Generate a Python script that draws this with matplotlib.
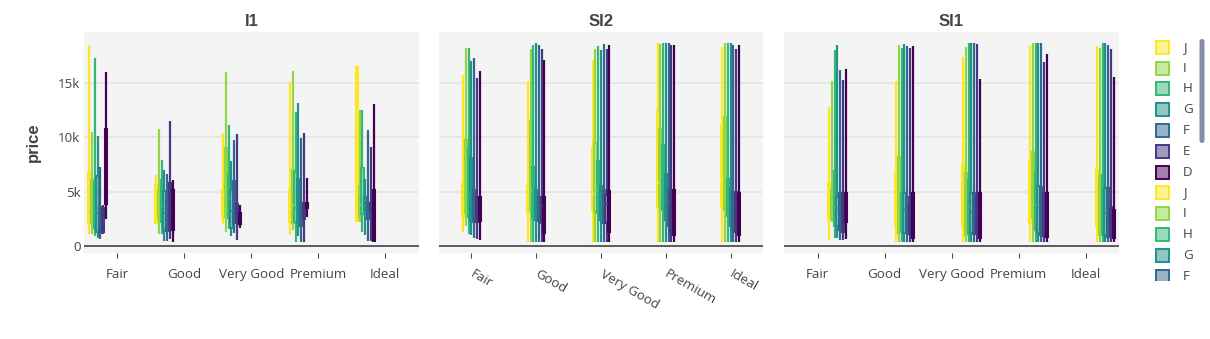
import numpy as np
import matplotlib
matplotlib.use("Agg")
import matplotlib.pyplot as plt
from matplotlib.patches import Rectangle, FancyBboxPatch
from matplotlib.ticker import FuncFormatter

cuts = ["Fair", "Good", "Very Good", "Premium", "Ideal"]
diamond_colors = ["J", "I", "H", "G", "F", "E", "D"]
clarities = ["I1", "SI2", "SI1"]

# Box statistics of price; rows follow `cuts`, columns follow `diamond_colors`.
i1_lo = [[1100, 1100, 900, 750, 650, 1150, 2500],
         [2000, 1150, 1100, 500, 500, 600, 370],
         [2000, 1300, 1600, 950, 1200, 550, 1700],
         [1000, 1500, 400, 900, 400, 370, 2700],
         [2200, 2200, 1300, 1000, 500, 500, 400]]
i1_q1 = [[2240, 2100, 1700, 1300, 1200, 1300, 3900],
         [2100, 2600, 2200, 1500, 1400, 1500, 1500],
         [2700, 2700, 2600, 1700, 2100, 2300, 2000],
         [2200, 2100, 2200, 2100, 1800, 2500, 3500],
         [2300, 2700, 2900, 3300, 2500, 3200, 500]]
i1_med = [[3700, 3300, 3000, 3000, 2000, 2400, 5600],
          [3900, 3800, 3600, 3000, 2700, 3200, 3800],
          [3800, 4500, 4300, 3200, 3300, 3100, 2500],
          [3500, 3800, 3500, 3500, 2800, 3200, 3700],
          [5000, 3800, 4200, 3900, 3300, 3600, 3700]]
i1_q3 = [[6700, 6100, 5900, 6400, 3600, 3500, 10800],
         [5600, 5200, 6100, 5100, 4400, 5800, 5200],
         [5200, 9000, 6600, 5200, 6000, 3900, 3000],
         [5200, 7000, 6800, 6200, 4000, 4000, 4000],
         [16500, 5500, 7200, 4500, 4000, 4000, 5200]]
i1_hi = [[18500, 10500, 17300, 10100, 7300, 3800, 16000],
         [6500, 10800, 7900, 7000, 6600, 11500, 6100],
         [10400, 16000, 11100, 7800, 9800, 10300, 3800],
         [15100, 16100, 12300, 13200, 9900, 10400, 6300],
         [16600, 12500, 12500, 6200, 10700, 9100, 13100]]

si2_lo = [[1300, 1800, 1100, 1000, 700, 600, 550],
          [400, 400, 400, 400, 400, 400, 400],
          [400, 400, 400, 400, 400, 400, 400],
          [400, 400, 400, 400, 400, 400, 400],
          [400, 400, 400, 400, 400, 400, 400]]
si2_q1 = [[2700, 3000, 2700, 2400, 2200, 2200, 2300],
          [3100, 3200, 2700, 2400, 2300, 2100, 1200],
          [3300, 3200, 3000, 2400, 2100, 2100, 1300],
          [3600, 3700, 3300, 2400, 1800, 1200, 1000],
          [3700, 3300, 2800, 1800, 1500, 1300, 1000]]
si2_med = [[4000, 5000, 4500, 3800, 3300, 3200, 3300],
           [4200, 5200, 4300, 3900, 3800, 3700, 3500],
           [4800, 5200, 4600, 4100, 4000, 3900, 4200],
           [5800, 5600, 5100, 4300, 4100, 4300, 4200],
           [5600, 5200, 4300, 3900, 3800, 3500, 2600]]
si2_q3 = [[5800, 9800, 9000, 8100, 5200, 4500, 4500],
          [5600, 11500, 7300, 5200, 4500, 4500, 4500],
          [9000, 9500, 7800, 5500, 5200, 4700, 5100],
          [12400, 10800, 9300, 6600, 5200, 5000, 5200],
          [11100, 11900, 6200, 5300, 5000, 5000, 4900]]
si2_hi = [[15700, 18200, 18200, 17000, 17300, 15500, 16100],
          [15200, 18100, 18500, 18700, 18500, 18100, 17100],
          [17100, 18100, 18400, 18000, 18600, 18100, 18500],
          [18700, 18600, 18700, 18700, 18700, 18500, 18500],
          [18300, 18700, 18700, 18700, 18500, 18100, 18500]]

si1_lo = [[550, 2200, 700, 700, 550, 550, 600],
          [400, 400, 400, 400, 400, 400, 400],
          [400, 400, 400, 400, 400, 400, 400],
          [400, 400, 400, 400, 400, 400, 400],
          [400, 400, 400, 400, 400, 400, 400]]
si1_q1 = [[2400, 2500, 1800, 1800, 1500, 1300, 2200],
          [1900, 1200, 1500, 1200, 1200, 1100, 700],
          [1900, 1000, 1200, 1200, 1100, 1100, 700],
          [2100, 2700, 1500, 1200, 1000, 900, 800],
          [1800, 1000, 1000, 1000, 800, 800, 700]]
si1_med = [[3700, 3800, 3600, 3500, 3200, 3100, 3400],
           [3700, 4100, 3700, 3300, 3200, 2900, 2700],
           [4000, 3800, 3600, 3100, 3000, 2900, 2500],
           [4100, 4400, 3800, 3500, 3400, 3100, 2800],
           [4000, 3600, 3500, 3000, 2800, 1600, 1500]]
si1_q3 = [[5800, 5200, 6900, 4500, 4900, 4900, 4900],
          [6600, 8200, 4900, 4900, 4500, 3800, 4900],
          [7500, 6700, 6100, 4900, 4900, 4500, 4900],
          [7800, 8700, 6900, 5500, 5400, 4900, 4900],
          [7000, 6500, 6500, 5300, 5300, 3600, 3300]]
si1_hi = [[12800, 15200, 18000, 18500, 16200, 15300, 16300],
          [15200, 18500, 18200, 18600, 18400, 18200, 18400],
          [17400, 18300, 18700, 18700, 18700, 18600, 15400],
          [18400, 18700, 18700, 18700, 18700, 16900, 17700],
          [18400, 18200, 18700, 18700, 18500, 18100, 15600]]

facet_stats = {
    "I1": (i1_lo, i1_q1, i1_med, i1_q3, i1_hi),
    "SI2": (si2_lo, si2_q1, si2_med, si2_q3, si2_hi),
    "SI1": (si1_lo, si1_q1, si1_med, si1_q3, si1_hi),
}

W, H = 1210, 339
TXT = "#444444"
BG = "#f4f4f4"
GRID = "#e2e2e2"
TICK_FS = 9.6
palette = plt.cm.viridis(np.linspace(0, 1, len(diamond_colors)))[::-1]

fig = plt.figure(figsize=(W / 100, H / 100), dpi=100)
fig.patch.set_facecolor("white")


def px_axes(left, top, right, bottom):
    return fig.add_axes([left / W, 1 - bottom / H, (right - left) / W, (bottom - top) / H])


panel_px = [(84, 418.7), (439, 763), (784, 1119)]
top_px, bot_px = 31.7, 253
step = 0.0425
n_traces = len(clarities) * len(diamond_colors)

for f, clarity in enumerate(clarities):
    ax = px_axes(panel_px[f][0], top_px, panel_px[f][1], bot_px)
    ax.set_facecolor(BG)
    for s in ax.spines.values():
        s.set_visible(False)
    ax.set_xlim(-0.5, len(cuts) - 0.5)
    ax.set_ylim(-645, 19730)
    ax.set_yticks([0, 5000, 10000, 15000])
    ax.yaxis.grid(True, color=GRID, linewidth=1.1, zorder=0)
    ax.set_axisbelow(True)
    ax.axhline(0, color=TXT, linewidth=1.2, zorder=1)

    lo, q1, med, q3, hi = facet_stats[clarity]
    for k, dc in enumerate(diamond_colors):
        col = palette[k]
        stats = []
        for c in range(len(cuts)):
            stats.append(dict(whislo=lo[c][k], q1=q1[c][k], med=med[c][k],
                              q3=q3[c][k], whishi=hi[c][k], fliers=[]))
        offset = (f * len(diamond_colors) + k - (n_traces - 1) / 2) * step
        pos = np.arange(len(cuts)) + offset
        fill = (col[0], col[1], col[2], 0.5)
        ax.bxp(stats, positions=pos, widths=0.032, patch_artist=True,
               showcaps=False, showfliers=False, manage_ticks=False,
               boxprops=dict(facecolor=fill, edgecolor=col, linewidth=1.5),
               whiskerprops=dict(color=col, linewidth=1.6, solid_capstyle="butt"),
               medianprops=dict(color=col, linewidth=1.5))

    ax.set_xticks(np.arange(len(cuts)))
    if f == 1:
        ax.tick_params(axis="x", length=3.6, width=0.8, color=TXT, pad=11,
                       labelsize=TICK_FS, labelcolor=TXT)
        ax.set_xticklabels(cuts, rotation=-30, ha="left", rotation_mode="anchor",
                           fontfamily="Open Sans")
        for lab in ax.get_xticklabels():
            lab.set_va("center")
    else:
        ax.tick_params(axis="x", length=3.6, width=0.8, color=TXT, pad=7.5,
                       labelsize=TICK_FS, labelcolor=TXT)
        ax.set_xticklabels(cuts, fontfamily="Open Sans")

    if f == 0:
        ax.yaxis.set_major_formatter(FuncFormatter(
            lambda v, p: "0" if v == 0 else f"{int(v / 1000)}k"))
        ax.tick_params(axis="y", length=0, pad=2.5,
                       labelsize=TICK_FS, labelcolor=TXT)
        for lab in ax.get_yticklabels():
            lab.set_fontfamily("Open Sans")
    else:
        ax.tick_params(axis="y", length=0, labelleft=False)

    ax.set_title(clarity, fontsize=12, fontweight="bold", color=TXT,
                 fontfamily="Liberation Sans", pad=4)

fig.text(33 / W, 1 - 142.5 / H, "price", rotation=90, ha="center", va="center",
         fontsize=12, fontweight="bold", color=TXT, fontfamily="Liberation Sans")

# Scrolling legend window: the first entries of the trace list, clipped at the bottom
lax = px_axes(1145, 36, 1210, 281)
lax.set_xlim(1145, 1210)
lax.set_ylim(281, 36)
lax.axis("off")
n_visible = 12
for i in range(n_visible):
    k = i % len(diamond_colors)
    col = palette[k]
    yc = 47.3 + i * 20.8
    lax.add_patch(Rectangle((1155.5, yc - 6.5), 13, 13,
                            facecolor=(col[0], col[1], col[2], 0.5),
                            edgecolor=col, linewidth=1.4))
    lax.text(1183, yc, diamond_colors[k], ha="left", va="center", fontsize=TICK_FS,
             color=TXT, fontfamily="Open Sans", clip_on=True)
lax.add_patch(FancyBboxPatch((1199.5, 39), 5, 104,
                             boxstyle="round,pad=0,rounding_size=2.5",
                             facecolor="#838ea6", edgecolor="none"))

fig.savefig("out.png", dpi=100, facecolor="white")
